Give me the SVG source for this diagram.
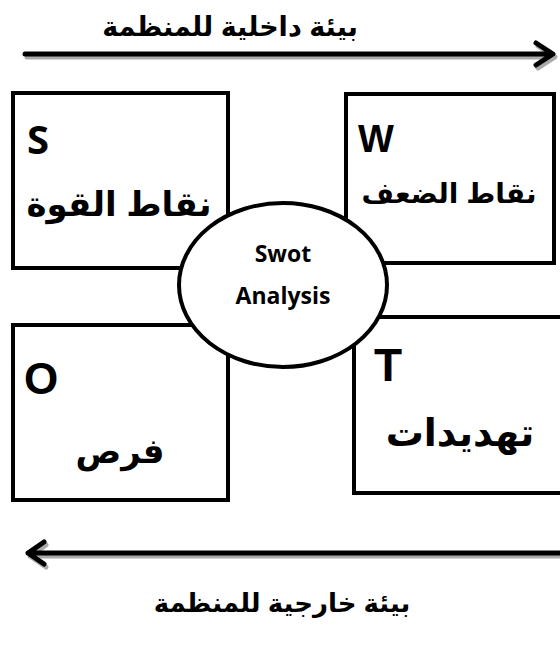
<svg xmlns="http://www.w3.org/2000/svg" width="560" height="648" viewBox="0 0 560 648">
<style>
.box{fill:#fff;stroke:#000;stroke-width:4}
.ar{font-family:"Liberation Sans","DejaVu Sans",sans-serif;font-weight:bold;fill:#000}
.lat{font-family:"Open Sans","Noto Sans",sans-serif;font-weight:bold;fill:#000}
.arl{font-family:"Liberation Sans","DejaVu Sans",sans-serif;font-weight:bold;fill:#000}
.sh{fill:none;stroke:#aaa;stroke-width:5;stroke-linecap:round;stroke-linejoin:round}
.ln{fill:none;stroke:#000;stroke-width:5;stroke-linecap:round;stroke-linejoin:round}
</style>
<rect width="560" height="648" fill="#fff"/>
<g id="connectors">
  <g id="arrow-internal">
    <path class="sh" d="M27,57 H552 M538,46 L555,57 L538,68"/>
    <path class="ln" d="M25,54 H550 M536,43 L553,54 L536,65"/>
  </g>
  <g id="arrow-external">
    <path class="sh" d="M562,556 H30 M46,545 L30,556 L46,567"/>
    <path class="ln" d="M562,553 H28 M44,542 L28,553 L44,564"/>
  </g>
</g>
<text class="ar" x="230" y="36" font-size="27" text-anchor="middle" direction="rtl">بيئة داخلية للمنظمة</text>
<g id="node-s">
  <rect class="box" x="13" y="93" width="215" height="175"/>
  <text class="lat" x="27" y="154" font-size="40">S</text>
  <text class="ar" x="119" y="216" font-size="34" text-anchor="middle" direction="rtl">نقاط القوة</text>
</g>
<g id="node-w">
  <rect class="box" x="346" y="94" width="208" height="169"/>
  <text class="arl" x="358" y="152" font-size="38">W</text>
  <text class="ar" x="449" y="203" font-size="28" text-anchor="middle" direction="rtl">نقاط الضعف</text>
</g>
<g id="node-o">
  <rect class="box" x="13" y="325" width="215" height="175"/>
  <text class="arl" x="24" y="394" font-size="44">O</text>
  <text class="ar" x="120" y="463" font-size="34" text-anchor="middle" direction="rtl">فرص</text>
</g>
<g id="node-t">
  <rect class="box" x="354" y="317" width="212" height="176"/>
  <text class="arl" x="374" y="381" font-size="46">T</text>
  <text class="ar" x="460" y="446" font-size="38" text-anchor="middle" direction="rtl">تهديدات</text>
</g>
<g id="node-swot">
  <ellipse cx="283" cy="285" rx="104" ry="82" fill="#fff" stroke="#000" stroke-width="4"/>
  <text class="lat" x="283" y="262" font-size="23" text-anchor="middle">Swot</text>
  <text class="lat" x="283" y="304" font-size="23" text-anchor="middle">Analysis</text>
</g>
<text class="ar" x="282" y="612" font-size="26" text-anchor="middle" direction="rtl">بيئة خارجية للمنظمة</text>
</svg>
